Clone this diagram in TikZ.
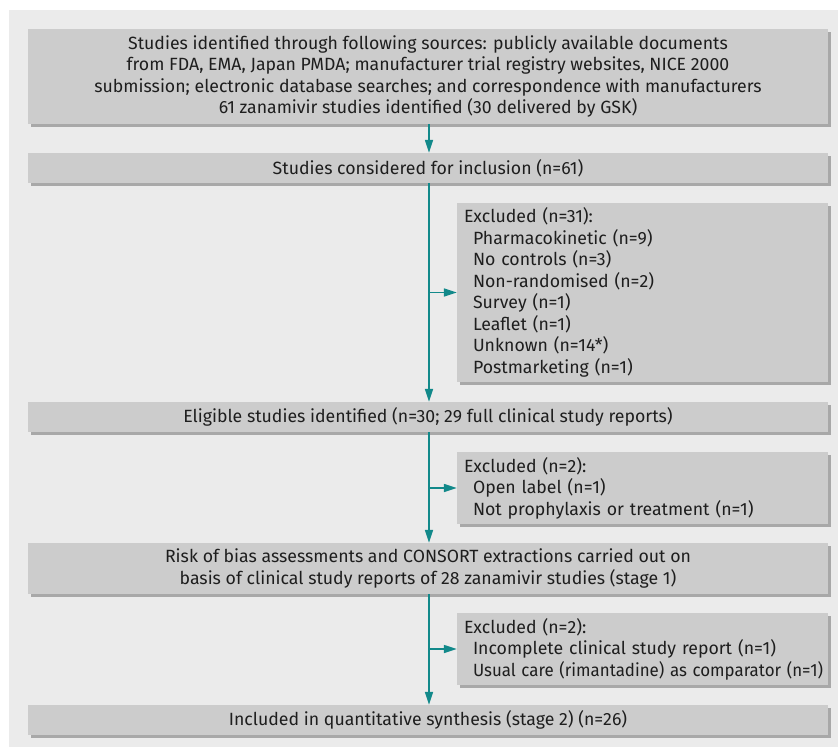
\documentclass[tikz,border=0pt]{standalone}
\usepackage{fontspec}
\usepackage{graphicx}
\setmainfont{Fira Sans}
\usetikzlibrary{arrows.meta,shadows}
\definecolor{bgc}{HTML}{EBEBEB}
\definecolor{boxc}{HTML}{CCCCCC}
\definecolor{shc}{HTML}{A8A8A8}
\definecolor{teal}{HTML}{12898A}
\definecolor{txt}{HTML}{1E1E1E}
\tikzset{
  box/.style={fill=boxc, draw=none, text=txt, align=center, inner sep=0pt,
    font=\fontsize{17.7}{21.5}\selectfont,
    drop shadow={shadow xshift=3pt, shadow yshift=-3pt, fill=shc, opacity=1}},
  mainbox/.style={box, minimum width=800pt},
  exbox/.style={box, align=left, text width=357pt, inner xsep=7pt, minimum width=371pt},
  flow/.style={draw=teal, line width=1.6pt, -{Triangle[length=13pt,width=8pt]}, color=teal},
}
\begin{document}
\begin{tikzpicture}[x=1pt,y=-1pt]
\useasboundingbox (0,0) rectangle (838,747);
\fill[bgc] (9,10) rectangle (838,747);
\node[mainbox, minimum height=95pt] (top) at (428,76.5) {Studies identified through following sources: publicly available documents\\from FDA, EMA, Japan PMDA; manufacturer trial registry websites, NICE 2000\\submission; electronic database searches; and correspondence with manufacturers\\61 zanamivir studies identified (30 delivered by GSK)};
\node[mainbox, minimum height=30pt] (cons) at (428,168) {Studies considered for inclusion (n=61)};
\node[exbox, minimum height=179pt] (ex1) at (642.5,292.5) {Excluded (n=31):\\\hspace*{9pt}Pharmacokinetic (n=9)\\\hspace*{9pt}No controls (n=3)\\\hspace*{9pt}Non-randomised (n=2)\\\hspace*{9pt}Survey (n=1)\\\hspace*{9pt}Leaflet (n=1)\\\hspace*{9pt}Unknown (n=14*)\\\hspace*{9pt}Postmarketing (n=1)};
\node[mainbox, minimum height=30pt] (elig) at (428,417) {Eligible studies identified (n=30; 29 full clinical study reports)};
\node[exbox, minimum height=72pt] (ex2) at (642.5,488) {Excluded (n=2):\\\hspace*{9pt}Open label (n=1)\\\hspace*{9pt}Not prophylaxis or treatment (n=1)};
\node[mainbox, minimum height=51pt] (risk) at (428,568.5) {Risk of bias assessments and CONSORT extractions carried out on\\basis of clinical study reports of 28 zanamivir studies (stage 1)};
\node[exbox, minimum height=72pt] (ex3) at (642.5,649) {Excluded (n=2):\\\hspace*{9pt}Incomplete clinical study report (n=1)\\\hspace*{9pt}\scalebox{0.955}[1]{Usual care (rimantadine) as comparator (n=1)}};
\node[mainbox, minimum height=30pt] (incl) at (428,720) {Included in quantitative synthesis (stage 2) (n=26)};
\coordinate (sp) at (429,0);
\draw[flow] (top.south -| sp) -- (cons.north -| sp);
\draw[flow] (cons.south -| sp) -- (elig.north -| sp);
\draw[flow] (elig.south -| sp) -- (risk.north -| sp);
\draw[flow] (risk.south -| sp) -- (incl.north -| sp);
\draw[flow] (ex1.west -| sp) -- (ex1.west);
\draw[flow] (ex2.west -| sp) -- (ex2.west);
\draw[flow] (ex3.west -| sp) -- (ex3.west);
\end{tikzpicture}
\end{document}
